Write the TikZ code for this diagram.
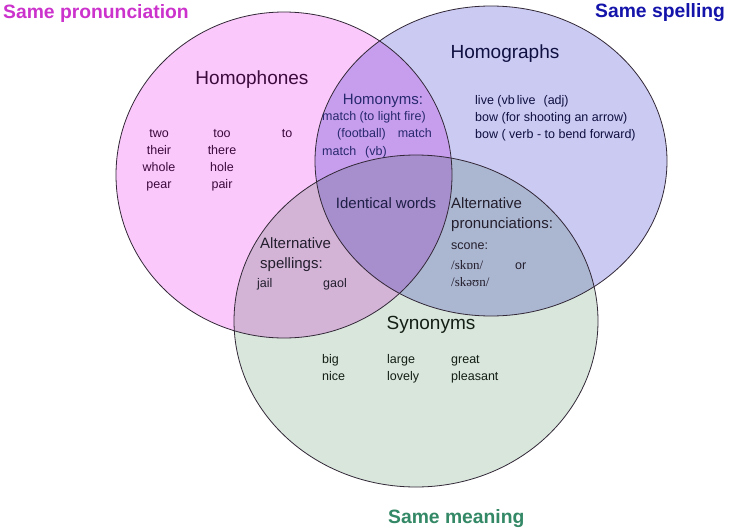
\documentclass[tikz,border=0pt]{standalone}
\usepackage{fontspec}
\setmainfont{Liberation Sans}
\newfontfamily\ipafont{Liberation Serif}
\usetikzlibrary{positioning}

\definecolor{pinkfill}{RGB}{250,200,250}
\definecolor{bluefill}{RGB}{202,202,242}
\definecolor{greenfill}{RGB}{216,230,220}
\definecolor{ringcol}{RGB}{50,40,55}
\definecolor{titlepink}{RGB}{204,51,204}
\definecolor{titleblue}{RGB}{20,20,170}
\definecolor{titlegreen}{RGB}{51,136,102}
\definecolor{pinktext}{RGB}{60,10,60}
\definecolor{homtext}{RGB}{40,40,110}
\definecolor{bluetext}{RGB}{15,15,65}
\definecolor{midtext}{RGB}{30,30,70}
\definecolor{greytext}{RGB}{35,30,45}
\definecolor{greentext}{RGB}{20,30,20}

\begin{document}
\begin{tikzpicture}[x=1pt,y=-1pt,
  word/.style={inner sep=0pt,anchor=base west,font=\fontsize{12.5}{15}\selectfont},
  cword/.style={word,anchor=base},
  head/.style={inner sep=0pt,anchor=base,font=\fontsize{19}{22}\selectfont},
  sub/.style={inner sep=0pt,anchor=base west,font=\fontsize{15}{18}\selectfont},
  title/.style={inner sep=0pt,anchor=base west,font=\fontsize{19.3}{22}\selectfont\bfseries},
  ring/.style={draw=ringcol,line width=0.8pt}]
\useasboundingbox[fill=white] (0,0) rectangle (741,527);

% the three sets
\begin{scope}[blend group=multiply]
\fill[pinkfill] (284,175) ellipse [x radius=168,y radius=163];
\fill[bluefill] (491,161) ellipse [x radius=176,y radius=155];
\fill[greenfill] (416,321) ellipse [x radius=182,y radius=166];
\end{scope}
\draw[ring] (284,175) ellipse [x radius=168,y radius=163];
\draw[ring] (491,161) ellipse [x radius=176,y radius=155];
\draw[ring] (416,321) ellipse [x radius=182,y radius=166];

% titles
\node[title,color=titlepink] (pron) at (3,19) {Same pronunciation};
\node[title,color=titleblue] (spell) at (595,18) {Same spelling};
\node[title,color=titlegreen] (mean) at (388,523) {Same meaning};

% homophones
\node[head,color=pinktext] (homophones) at (252,84) {Homophones};
\node[cword,color=pinktext] (two) at (159,137) {two};
\node[cword,color=pinktext] (their) at (159,154) {their};
\node[cword,color=pinktext] (whole) at (159,171) {whole};
\node[cword,color=pinktext] (pear) at (159,188) {pear};
\node[cword,color=pinktext] (too) at (222,137) {too};
\node[cword,color=pinktext] (there) at (222,154) {there};
\node[cword,color=pinktext] (hole) at (222,171) {hole};
\node[cword,color=pinktext] (pair) at (222,188) {pair};
\node[cword,color=pinktext] (to) at (287,137) {to};

% homonyms
\node[sub,anchor=base,color=homtext] (homonyms) at (383,104) {Homonyms:};
\node[word,color=homtext] (matchA) at (322,120) {match (to light fire)};
\node[word,color=homtext] (matchB) at (337,137) {(football)\hspace{12pt}match};
\node[word,color=homtext] (matchC) at (322,155) {match\hspace{9pt}(vb)};

% homographs
\node[head,color=bluetext] (homographs) at (505,59) {Homographs};
\node[word,color=bluetext] (live) at (475,104) {live (vb\,live\hspace{8pt}(adj)};
\node[word,color=bluetext] (bowA) at (475,121) {bow (for shooting an arrow)};
\node[word,color=bluetext] (bowB) at (475,138) {bow ( verb - to bend forward)};

% centre
\node[sub,anchor=base,color=midtext] (identical) at (386,208) {Identical words};

% alternative pronunciations
\node[sub,color=greytext] (altpA) at (451,208) {Alternative};
\node[sub,color=greytext] (altpB) at (451,228) {pronunciations:};
\node[word,color=greytext] (scone) at (451,249) {scone:};
\node[word,color=greytext,font=\ipafont\fontsize{13}{15}\selectfont] (skon) at (451,269) {/skɒn/};
\node[word,color=greytext] (or) at (515,269) {or};
\node[word,color=greytext,font=\ipafont\fontsize{13}{15}\selectfont] (skoun) at (451,286) {/skəʊn/};

% alternative spellings
\node[sub,color=greytext] (altsA) at (260,248) {Alternative};
\node[sub,color=greytext] (altsB) at (260,268) {spellings:};
\node[word,color=greytext] (jail) at (257,287) {jail};
\node[word,color=greytext] (gaol) at (323,287) {gaol};

% synonyms
\node[head,color=greentext] (synonyms) at (431,329) {Synonyms};
\node[word,color=greentext] (big) at (322,363) {big};
\node[word,color=greentext] (nice) at (322,380) {nice};
\node[word,color=greentext] (large) at (387,363) {large};
\node[word,color=greentext] (lovely) at (387,380) {lovely};
\node[word,color=greentext] (great) at (451,363) {great};
\node[word,color=greentext] (pleasant) at (451,380) {pleasant};
\end{tikzpicture}
\end{document}
